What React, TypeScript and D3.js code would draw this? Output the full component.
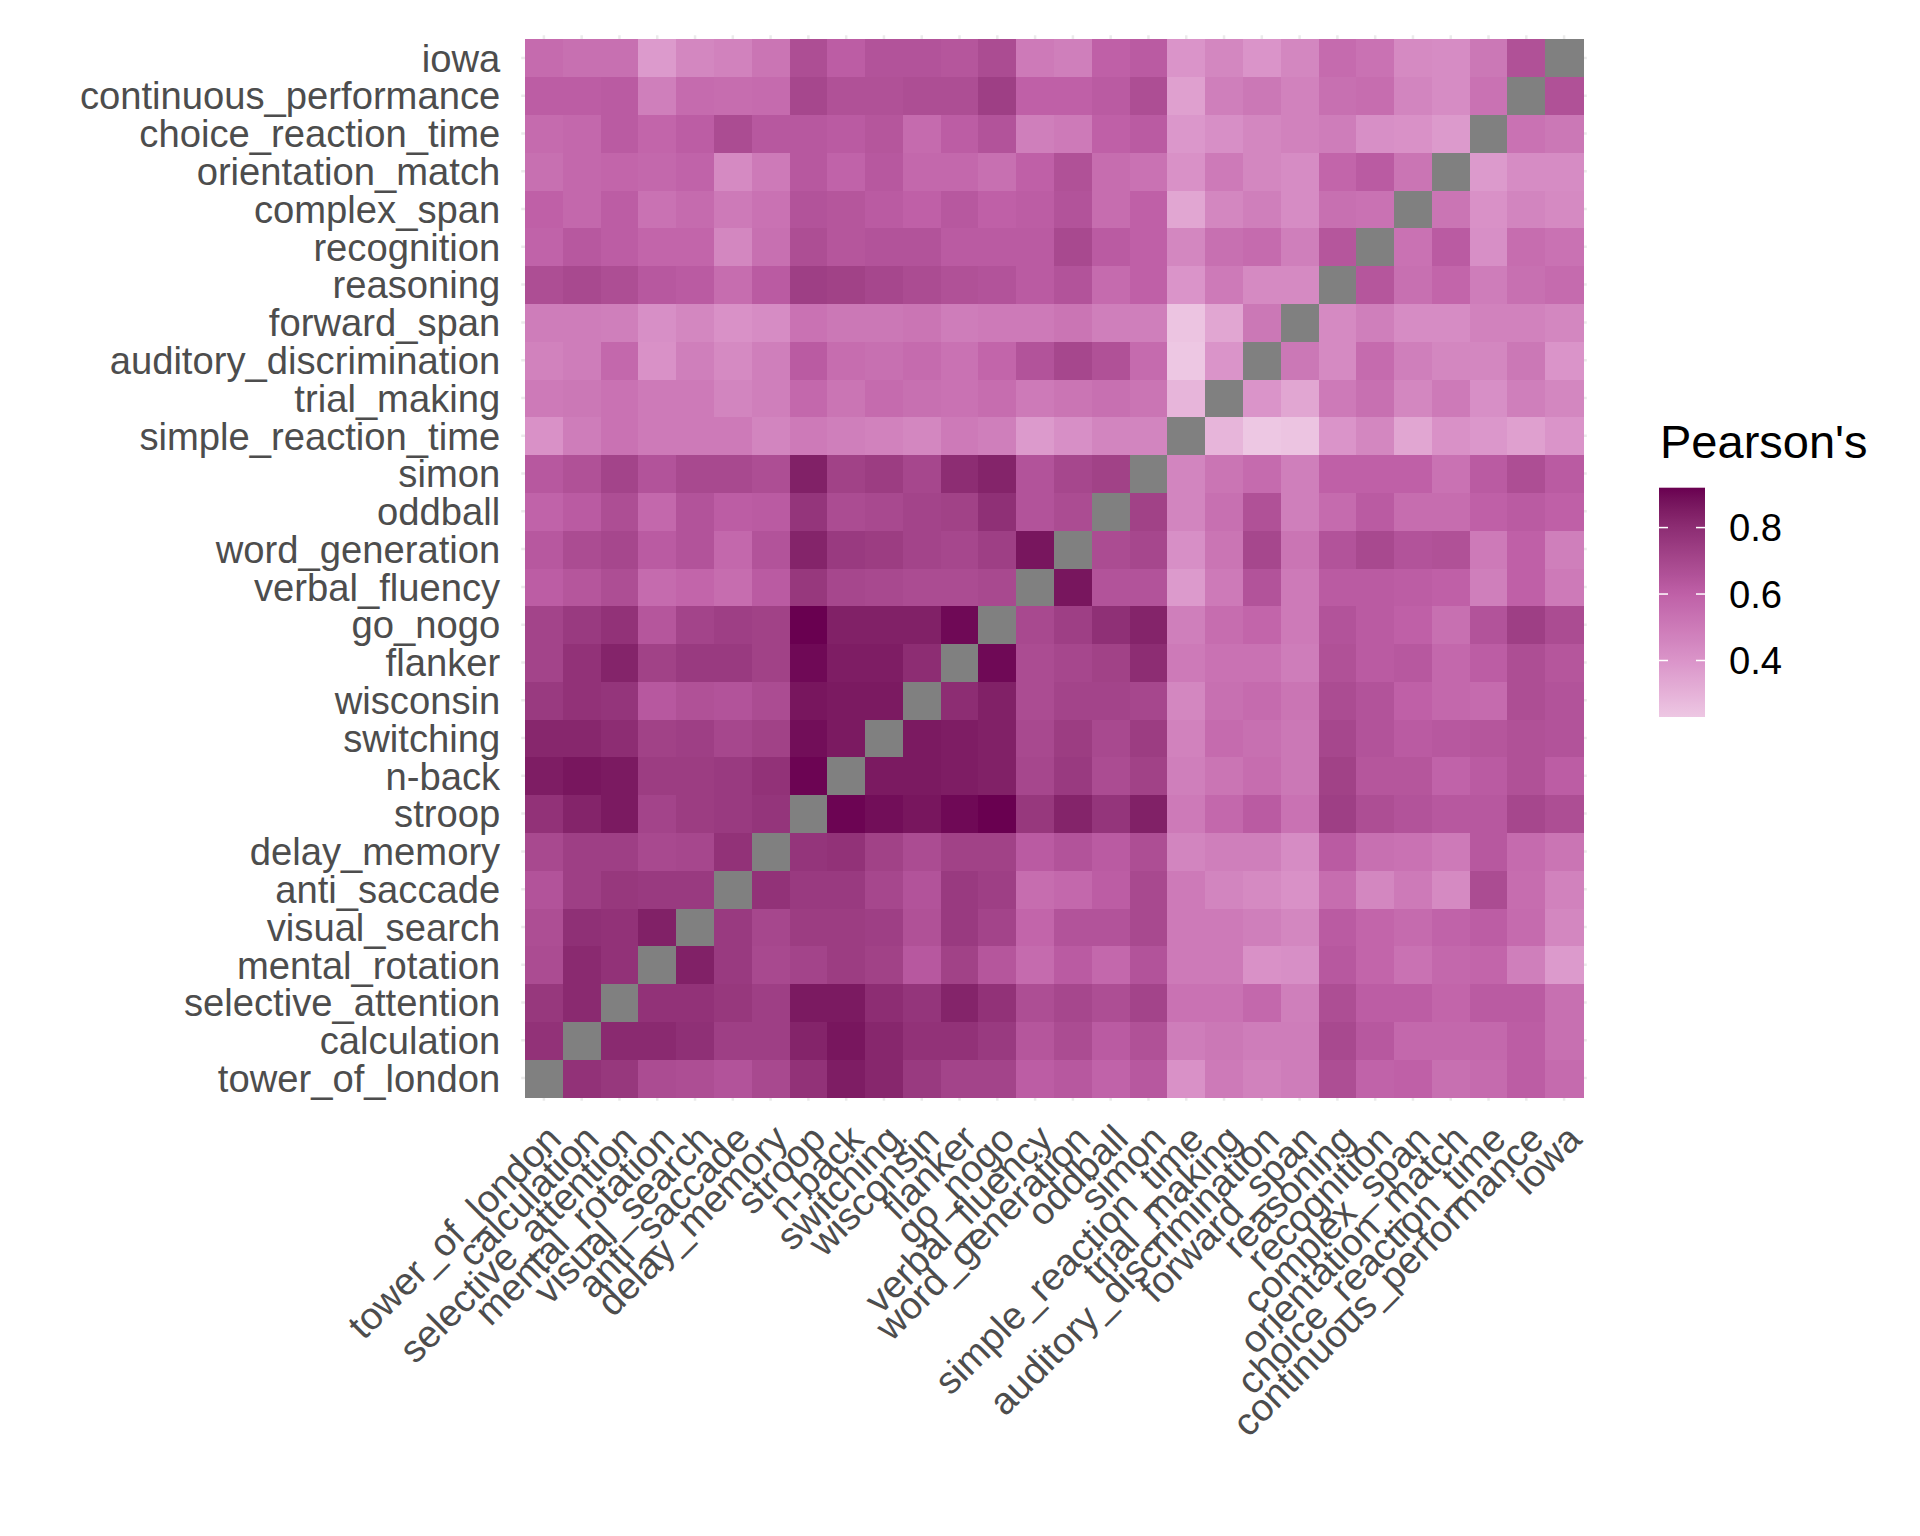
import React from "react";
import * as d3 from "d3";

// Task order (x from left, y from bottom)
const tasks = [
  "tower_of_london", "calculation", "selective_attention", "mental_rotation", "visual_search",
  "anti_saccade", "delay_memory", "stroop", "n-back", "switching", "wisconsin", "flanker",
  "go_nogo", "verbal_fluency", "word_generation", "oddball", "simon", "simple_reaction_time",
  "trial_making", "auditory_discrimination", "forward_span", "reasoning", "recognition",
  "complex_span", "orientation_match", "choice_reaction_time", "continuous_performance", "iowa",
];

// Upper-triangle correlations: each row lists r(task_i, task_j) for j > i
const towerOfLondon = [0.78, 0.76, 0.68, 0.67, 0.65, 0.69, 0.78, 0.85, 0.82, 0.75, 0.71, 0.71, 0.61, 0.63, 0.59, 0.63, 0.41, 0.50, 0.47, 0.49, 0.67, 0.59, 0.60, 0.54, 0.56, 0.61, 0.56];
const calculation = [0.81, 0.81, 0.79, 0.73, 0.73, 0.83, 0.87, 0.82, 0.78, 0.78, 0.75, 0.64, 0.68, 0.62, 0.66, 0.49, 0.51, 0.49, 0.49, 0.69, 0.63, 0.57, 0.57, 0.57, 0.61, 0.54];
const selectiveAttention = [0.78, 0.78, 0.76, 0.73, 0.86, 0.86, 0.80, 0.77, 0.83, 0.78, 0.67, 0.70, 0.67, 0.71, 0.53, 0.53, 0.57, 0.48, 0.67, 0.61, 0.61, 0.58, 0.62, 0.62, 0.54];
const mentalRotation = [0.84, 0.75, 0.69, 0.71, 0.74, 0.72, 0.63, 0.72, 0.64, 0.56, 0.62, 0.57, 0.65, 0.50, 0.50, 0.41, 0.42, 0.63, 0.58, 0.53, 0.57, 0.58, 0.48, 0.38];
const visualSearch = [0.75, 0.70, 0.74, 0.74, 0.73, 0.66, 0.75, 0.71, 0.58, 0.65, 0.65, 0.69, 0.50, 0.50, 0.48, 0.45, 0.62, 0.58, 0.56, 0.59, 0.61, 0.56, 0.45];
const antiSaccade = [0.78, 0.75, 0.75, 0.70, 0.65, 0.75, 0.73, 0.55, 0.57, 0.61, 0.69, 0.50, 0.46, 0.44, 0.41, 0.55, 0.45, 0.50, 0.44, 0.68, 0.55, 0.47];
const delayMemory = [0.77, 0.78, 0.72, 0.68, 0.72, 0.72, 0.62, 0.65, 0.62, 0.67, 0.46, 0.48, 0.48, 0.43, 0.62, 0.54, 0.53, 0.50, 0.63, 0.56, 0.52];
const stroop = [0.91, 0.89, 0.87, 0.90, 0.92, 0.76, 0.83, 0.77, 0.84, 0.50, 0.57, 0.62, 0.53, 0.73, 0.67, 0.65, 0.63, 0.63, 0.70, 0.67];
const nBack = [0.86, 0.86, 0.85, 0.84, 0.70, 0.75, 0.68, 0.72, 0.48, 0.52, 0.55, 0.51, 0.72, 0.64, 0.64, 0.59, 0.62, 0.66, 0.61];
const switching = [0.86, 0.85, 0.84, 0.69, 0.74, 0.69, 0.74, 0.47, 0.56, 0.54, 0.51, 0.70, 0.65, 0.62, 0.63, 0.64, 0.66, 0.65];
const wisconsin = [0.80, 0.84, 0.68, 0.71, 0.71, 0.70, 0.45, 0.54, 0.56, 0.52, 0.68, 0.65, 0.60, 0.57, 0.56, 0.67, 0.65];
const flanker = [0.90, 0.68, 0.70, 0.72, 0.80, 0.50, 0.53, 0.53, 0.49, 0.66, 0.62, 0.63, 0.57, 0.61, 0.67, 0.64];
const goNogo = [0.69, 0.73, 0.79, 0.83, 0.48, 0.55, 0.58, 0.50, 0.65, 0.62, 0.60, 0.54, 0.65, 0.73, 0.68];
const verbalFluency = [0.87, 0.65, 0.65, 0.38, 0.50, 0.65, 0.50, 0.62, 0.62, 0.61, 0.60, 0.48, 0.60, 0.50];
const wordGeneration = [0.68, 0.70, 0.42, 0.52, 0.70, 0.52, 0.65, 0.69, 0.65, 0.66, 0.50, 0.60, 0.48];
const oddball = [0.72, 0.46, 0.54, 0.66, 0.48, 0.56, 0.62, 0.55, 0.55, 0.60, 0.62, 0.60];
const simon = [0.46, 0.52, 0.56, 0.48, 0.60, 0.60, 0.60, 0.53, 0.62, 0.67, 0.62];
const simpleReactionTime = [0.29, 0.23, 0.24, 0.40, 0.45, 0.34, 0.41, 0.39, 0.36, 0.40];
const trialMaking = [0.40, 0.34, 0.50, 0.54, 0.45, 0.50, 0.42, 0.48, 0.45];
const auditoryDiscrimination = [0.51, 0.44, 0.56, 0.48, 0.45, 0.45, 0.51, 0.40];
const forwardSpan = [0.44, 0.48, 0.43, 0.43, 0.47, 0.47, 0.45];
const reasoning = [0.64, 0.54, 0.58, 0.49, 0.54, 0.56];
const recognition = [0.53, 0.62, 0.42, 0.55, 0.53];
const complexSpan = [0.52, 0.41, 0.46, 0.44];
const orientationMatch = [0.38, 0.43, 0.43];
const choiceReactionTime = [0.53, 0.51];
const continuousPerformance = [0.66];

const corrRows = [
  towerOfLondon, calculation, selectiveAttention, mentalRotation, visualSearch, antiSaccade,
  delayMemory, stroop, nBack, switching, wisconsin, flanker, goNogo, verbalFluency,
  wordGeneration, oddball, simon, simpleReactionTime, trialMaking, auditoryDiscrimination,
  forwardSpan, reasoning, recognition, complexSpan, orientationMatch, choiceReactionTime,
  continuousPerformance,
];

const legendTicks = [0.4, 0.6, 0.8];
const legendTitle = "Pearson's";
// palette anchors (low -> high), matched to the legend bar
const paletteColors = ["#EDC7E3", "#DA94C9", "#BF60A7", "#8D2D73", "#690050"];
const paletteStops = [0.4, 0.6, 0.8];

const FONT = "'Liberation Sans', Arial, Helvetica, sans-serif";

function corr(i: number, j: number): number | null {
  if (i === j) return null;
  const a = Math.min(i, j);
  const b = Math.max(i, j);
  return corrRows[a][b - a - 1];
}

export default function App() {
  const W = 1920;
  const H = 1536;
  const left = 525;
  const top = 39;
  const size = 1058;

  const x = d3.scaleBand<string>().domain(tasks).range([left, left + size]);
  const y = d3.scaleBand<string>().domain(tasks).range([top + size, top]);
  const bw = x.bandwidth();
  const pad = bw * 0.1;

  const cells: { i: number; j: number; v: number | null }[] = [];
  tasks.forEach((_, i) => tasks.forEach((__, j) => cells.push({ i, j, v: corr(i, j) })));
  const vals = cells.filter((c) => c.v !== null).map((c) => c.v as number);
  const [vmin, vmax] = d3.extent(vals) as [number, number];

  const color = d3
    .scaleLinear<string>()
    .domain([vmin, ...paletteStops, vmax])
    .range(paletteColors)
    .interpolate(d3.interpolateLab)
    .clamp(true);

  // legend
  const barX = 1659;
  const barW = 46;
  const barTop = 487.7;
  const barBottom = 717;
  const ly = d3.scaleLinear().domain([vmin, vmax]).range([barBottom, barTop]);
  const stops = d3.range(0, 1.0001, 0.02).map((t) => ({ t, c: color(vmin + t * (vmax - vmin)) }));

  const labelFont = 38.2;
  const axisY = top + size + pad + 21; // x label anchor
  const axisX = left - pad - 21; // y label anchor

  return (
    <div style={{ position: "absolute", left: 0, top: 0 }}>
      <svg width={W} height={H} style={{ display: "block", background: "#ffffff" }}>
        <defs>
          <linearGradient id="legendGrad" x1="0" y1="1" x2="0" y2="0">
            {stops.map((s) => (
              <stop key={s.t} offset={s.t} stopColor={s.c} />
            ))}
          </linearGradient>
        </defs>
        {/* grid lines */}
        <g stroke="#EBEBEB" strokeWidth={2.5}>
          {tasks.map((t) => (
            <line key={"gx" + t} x1={(x(t) as number) + bw / 2} x2={(x(t) as number) + bw / 2} y1={top - pad} y2={top + size + pad} />
          ))}
          {tasks.map((t) => (
            <line key={"gy" + t} y1={(y(t) as number) + bw / 2} y2={(y(t) as number) + bw / 2} x1={left - pad} x2={left + size + pad} />
          ))}
        </g>
        {/* tiles */}
        <g shapeRendering="crispEdges">
          {cells.map((c) => (
            <rect
              key={c.i + "-" + c.j}
              x={x(tasks[c.j]) as number}
              y={y(tasks[c.i]) as number}
              width={bw + 0.5}
              height={bw + 0.5}
              fill={c.v === null ? "#808080" : color(c.v)}
            />
          ))}
        </g>
        {/* y axis labels */}
        <g fontFamily={FONT} fontSize={labelFont} fill="#4D4D4D" textAnchor="end">
          {tasks.map((t) => (
            <text key={"yl" + t} x={axisX} y={(y(t) as number) + bw / 2} dy="0.36em">
              {t}
            </text>
          ))}
        </g>
        {/* x axis labels */}
        <g fontFamily={FONT} fontSize={labelFont} fill="#4D4D4D" textAnchor="end">
          {tasks.map((t) => {
            const ax = (x(t) as number) + bw / 2;
            return (
              <text key={"xl" + t} transform={`translate(${ax},${axisY}) rotate(-45)`} dy="0.72em">
                {t}
              </text>
            );
          })}
        </g>
        {/* legend */}
        <text x={1660} y={458} fontFamily={FONT} fontSize={47} fill="#000000">
          {legendTitle}
        </text>
        <rect x={barX} y={barTop} width={barW} height={barBottom - barTop} fill="url(#legendGrad)" />
        <g stroke="#ffffff" strokeWidth={1.5}>
          {legendTicks.map((v) => (
            <g key={"lt" + v}>
              <line x1={barX} x2={barX + 9} y1={ly(v)} y2={ly(v)} />
              <line x1={barX + barW - 9} x2={barX + barW} y1={ly(v)} y2={ly(v)} />
            </g>
          ))}
        </g>
        <g fontFamily={FONT} fontSize={labelFont} fill="#000000">
          {legendTicks.map((v) => (
            <text key={"ll" + v} x={1729} y={ly(v)} dy="0.36em">
              {d3.format(".1f")(v)}
            </text>
          ))}
        </g>
      </svg>
    </div>
  );
}
